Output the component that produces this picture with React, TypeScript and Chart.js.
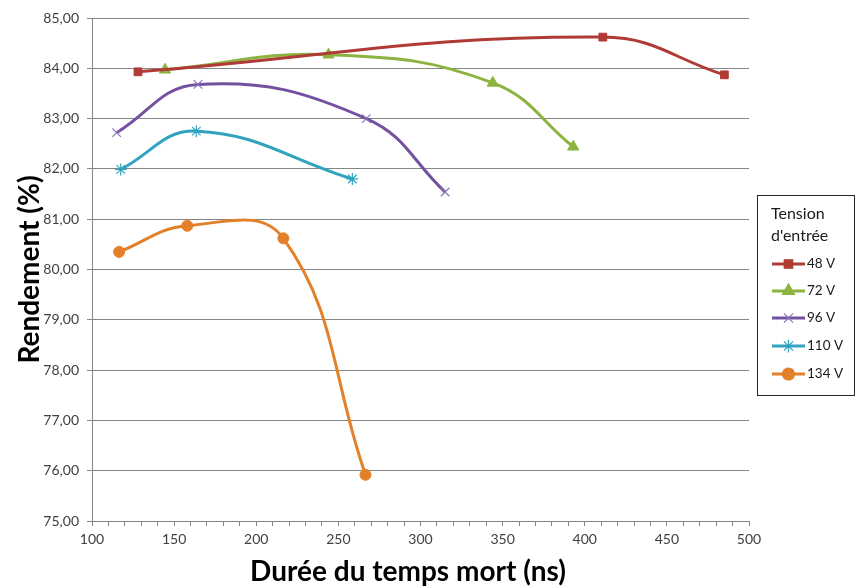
import React, { useEffect, useRef } from 'react';
import { Chart, registerables } from 'chart.js';
import { drawPoint } from 'chart.js/helpers';

Chart.register(...registerables);

const seriesNames = ['48 V', '72 V', '96 V', '110 V', '134 V'];
const legendTitle = ['Tension', "d'entrée"];
const xTitle = 'Durée du temps mort (ns)';
const yTitle = 'Rendement (%)';

const x48 = [128, 411, 485];
const y48 = [83.93, 84.62, 83.87];
const x72 = [144.5, 244, 344, 393];
const y72 = [83.97, 84.27, 83.71, 82.44];
const x96 = [115, 164.5, 267, 315];
const y96 = [82.72, 83.68, 83.0, 81.54];
const x110 = [117.5, 163.5, 258.5];
const y110 = [81.99, 82.75, 81.8];
const x134 = [116.5, 158, 216.5, 266.5];
const y134 = [80.35, 80.87, 80.62, 75.92];

const xsAll = [x48, x72, x96, x110, x134];
const ysAll = [y48, y72, y96, y110, y134];
const colors = ['#B03A36', '#8BB33F', '#7351A0', '#31A3BF', '#E3802A'];
const pointStyles = ['rect', 'triangle', 'crossRot', 'star', 'circle'];
const pointRadii = [5.5, 6.5, 6, 6, 5.5];

const FONT = 'Lato, "Open Sans", sans-serif';

const overlayPlugin = {
  id: 'overlay',
  afterDraw(chart: any) {
    const ctx = chart.ctx;
    const area = chart.chartArea;
    ctx.save();
    // axis titles
    ctx.fillStyle = '#000000';
    ctx.font = `bold 28px ${FONT}`;
    ctx.textAlign = 'center';
    ctx.textBaseline = 'middle';
    ctx.fillText(xTitle, 408, 572);
    ctx.save();
    ctx.translate(30, (area.top + area.bottom) / 2);
    ctx.rotate(-Math.PI / 2);
    ctx.fillText(yTitle, 0, 0);
    ctx.restore();

    // legend box
    ctx.strokeStyle = '#262626';
    ctx.lineWidth = 1;
    ctx.strokeRect(757.5, 195.5, 97, 200);
    ctx.font = `16px ${FONT}`;
    ctx.fillStyle = '#1a1a1a';
    ctx.textAlign = 'left';
    ctx.textBaseline = 'middle';
    ctx.fillText(legendTitle[0], 771, 214);
    ctx.fillText(legendTitle[1], 771, 236);
    const rows = [264, 291, 318, 346, 374];
    chart.data.datasets.forEach((ds: any, i: number) => {
      const y = rows[i];
      ctx.strokeStyle = ds.borderColor;
      ctx.lineWidth = 3;
      ctx.beginPath();
      ctx.moveTo(772, y);
      ctx.lineTo(805, y);
      ctx.stroke();
      ctx.fillStyle = ds.pointBackgroundColor;
      ctx.strokeStyle = ds.pointBorderColor;
      ctx.lineWidth = 1.2;
      drawPoint(ctx, { pointStyle: ds.pointStyle, radius: ds.pointRadius + 0.5, rotation: 0, borderWidth: 1.2 }, 788.5, y);
      ctx.fillStyle = '#1a1a1a';
      ctx.font = `13.5px ${FONT}`;
      ctx.fillText(seriesNames[i], 807, y);
    });
    ctx.restore();
  },
};

export default function App() {
  const ref = useRef<HTMLCanvasElement | null>(null);
  useEffect(() => {
    document.body.style.margin = '0';
    const canvas = ref.current!;
    const datasets = seriesNames.map((name, i) => ({
      label: name,
      data: xsAll[i].map((x, j) => ({ x, y: ysAll[i][j] })),
      borderColor: colors[i],
      backgroundColor: colors[i],
      pointBackgroundColor: colors[i],
      pointBorderColor: i === 2 ? '#8C74B8' : colors[i],
      pointBorderWidth: i === 2 || i === 3 ? 1.2 : 1,
      borderWidth: 3,
      pointStyle: pointStyles[i],
      pointRadius: pointRadii[i],
      tension: 0.42,
      fill: false,
    }));
    const chart = new Chart(canvas, {
      type: 'scatter',
      data: { datasets },
      options: {
        animation: false,
        responsive: false,
        showLine: true,
        layout: { padding: { top: 18, right: 107, left: 0, bottom: 0 } },
        plugins: { legend: { display: false }, tooltip: { enabled: false } },
        scales: {
          x: {
            type: 'linear',
            min: 100,
            max: 500,
            afterFit: (s: any) => { s.height = 67; },
            ticks: {
              stepSize: 10,
              autoSkip: false,
              maxRotation: 0,
              padding: 5,
              color: '#404040',
              font: { family: FONT, size: 14 },
              callback: (v: any) => (Number(v) % 50 === 0 ? String(v) : ''),
            },
            grid: { drawOnChartArea: false, drawTicks: true, tickLength: 5, color: '#868686' },
            border: { color: '#868686', width: 1 },
          },
          y: {
            min: 75,
            max: 85,
            afterFit: (s: any) => { s.width = 92; },
            ticks: {
              stepSize: 1,
              padding: 8,
              color: '#404040',
              font: { family: FONT, size: 14 },
              callback: (v: any) => Number(v).toFixed(2).replace('.', ','),
            },
            grid: { color: '#868686', tickLength: 5, lineWidth: 1 },
            border: { color: '#868686', width: 1 },
          },
        },
      },
      plugins: [overlayPlugin],
    } as any);
    return () => chart.destroy();
  }, []);
  return (
    <div style={{ width: 856, height: 588, background: '#fff' }}>
      <canvas ref={ref} width={856} height={588} style={{ display: 'block' }} />
    </div>
  );
}
